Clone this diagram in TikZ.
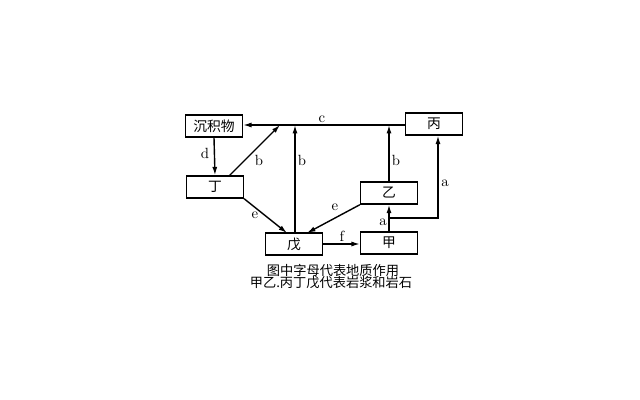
\documentclass[tikz,border=0pt]{standalone}
\usepackage{fontspec}
\usepackage{tikz}
\usetikzlibrary{arrows.meta}
\newfontfamily\cjk{Noto Sans CJK SC}
\newcommand{\rockarrow}{-{Latex[length=6pt,width=3.6pt]}}
\tikzset{
  rockbox/.style={draw,line width=1pt,minimum width=1.42cm,minimum height=0.55cm,inner sep=0pt,font=\cjk\fontsize{9.8}{11}\selectfont},
  flow/.style={line width=1pt},
  lab/.style={font=\fontsize{10.5}{12}\selectfont,inner sep=0pt}
}
\begin{document}
\begin{tikzpicture}[x=0.025cm,y=-0.025cm]
    \useasboundingbox (0,0) rectangle (640,400);
    % rocks and magma
    \node[rockbox] (chen) at (214,126) {沉积物};
    \node[rockbox] (bing) at (434,124) {丙};
    \node[rockbox] (ding) at (215,187) {丁};
    \node[rockbox] (yi) at (389,193) {乙};
    \node[rockbox] (wu) at (294,244) {戊};
    \node[rockbox] (jia) at (389,243) {甲};
    % junctions on c
    \coordinate (cb) at (280,125);
    \coordinate (cw) at (295,125);
    \coordinate (cy) at (389,125);
    \coordinate (db) at (229,176);
    \coordinate (aj) at (389,218);
    \coordinate (ar) at (438,218);
    % c
    \draw[flow,\rockarrow] (bing.west |- cy) -- (chen.east |- cy);
    \node[lab] (lc) at (322,119) {c};
    % d
    \draw[flow,\rockarrow] (chen.south) -- (ding.north);
    \node[lab] (ld) at (205,153) {d};
    % b
    \draw[flow,\rockarrow] (db) -- (cb);
    \draw[flow,\rockarrow] (wu.north -| cw) -- (cw);
    \draw[flow,\rockarrow] (yi.north) -- (cy);
    \node[lab] (lb1) at (259,160) {b};
    \node[lab] (lb2) at (302,160) {b};
    \node[lab] (lb3) at (396,160) {b};
    % e
    \draw[flow,\rockarrow] (ding.south east) -- (287,233);
    \draw[flow,\rockarrow] (yi.south west) -- (307,233);
    \node[lab] (le1) at (255,215) {e};
    \node[lab] (le2) at (335,207) {e};
    % f
    \draw[flow,\rockarrow] (wu.east) -- (wu.east -| jia.west);
    \node[lab] (lf) at (342,236) {f};
    % a
    \draw[flow,\rockarrow] (jia.north) -- (yi.south);
    \draw[flow,\rockarrow] (aj) -- (ar) -- (ar |- bing.south);
    \node[lab] (la1) at (383,222) {a};
    \node[lab] (la2) at (445,183) {a};
    % caption
    \node[font=\cjk\fontsize{9.4}{11}\selectfont,inner sep=0pt] (cap1) at (333,270) {图中字母代表地质作用};
    \node[font=\cjk\fontsize{9.4}{11}\selectfont,inner sep=0pt] (cap2) at (331,283) {甲乙.丙丁戊代表岩浆和岩石};
\end{tikzpicture}
\end{document}
